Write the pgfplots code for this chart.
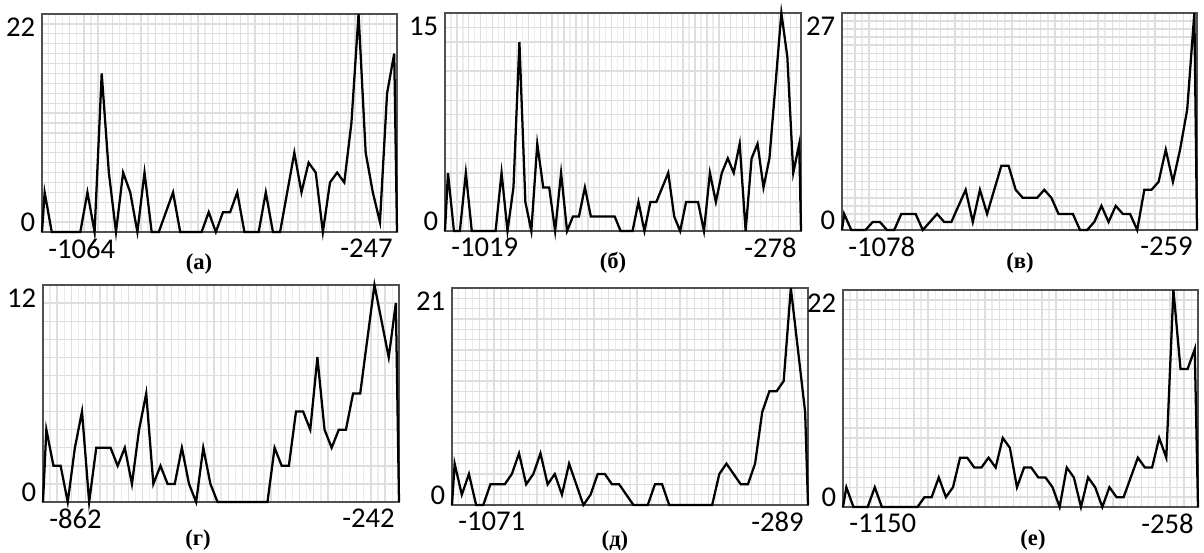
\documentclass[border=0pt]{standalone}
\usepackage{pgfplots}
\pgfplotsset{compat=1.18}
\usepackage{fontspec}
\setmainfont{Carlito}
\newfontfamily\capfont{Liberation Serif}
\definecolor{gridc}{RGB}{222,222,222}
\definecolor{gridm}{RGB}{236,236,236}
\definecolor{framec}{RGB}{80,80,80}
\pgfplotsset{
  panel/.style={scale only axis, ymin=0, clip=false,
    xticklabels={}, yticklabels={}, tick style={draw=none},
    xmajorgrids, xminorgrids, ymajorgrids,
    major grid style={gridc, line width=1pt},
    minor grid style={gridm, line width=1pt},
    axis line style={draw=framec, line width=1.4pt}},
  curve/.style={black, line width=1.7pt, no markers},
  g50/.style={xtick={-0.5,1.5,...,49.5}, minor xtick={0.5,2.5,...,49.5}},
}
\tikzset{
  lab/.style={inner sep=0pt, font=\fontsize{21.5}{24}\selectfont},
  captxt/.style={inner sep=0pt, font=\capfont\bfseries\fontsize{17}{20}\selectfont},
}
\newcommand\panellabels[4]{%
  \node[lab, anchor=north east, xshift=-5pt, yshift=-3pt] at (rel axis cs:0,1) {#1};
  \node[lab, anchor=south east, xshift=-5pt] at (rel axis cs:0,0) {#2};
  \node[lab, anchor=north west, xshift=4.5pt, yshift=-5pt] at (rel axis cs:0,0) {#3};
  \node[lab, anchor=north east, xshift=-3pt, yshift=-5pt] at (rel axis cs:1,0) {#4};
}
\begin{document}
\begin{tikzpicture}
\path[use as bounding box] (0,0) rectangle (903pt,-414.75pt);

% (a)
\begin{axis}[panel, g50, ytick={0,1,...,22}, at={(31.5pt,-174pt)}, anchor=south west, width=266.25pt, height=163.5pt,
  xmin=-0.37, xmax=49.39, ymax=22]
\addplot[curve] coordinates {(-0.37,0)
(0,4)(1,0)(2,0)(3,0)(4,0)(5,0)(6,4)(7,0)(8,16)(9,6)
(10,0)(11,6)(12,4)(13,0)(14,6)(15,0)(16,0)(17,2)(18,4)(19,0)
(20,0)(21,0)(22,0)(23,2)(24,0)(25,2)(26,2)(27,4)(28,0)(29,0)
(30,0)(31,4)(32,0)(33,0)(34,4)(35,8)(36,4)(37,7)(38,6)(39,0)
(40,5)(41,6)(42,5)(43,11)(44,22)(45,8)(46,4)(47,1)(48,14)(49,18)
(49.39,0)};
\panellabels{22}{0}{-1064}{-247}
\end{axis}

% (b)
\begin{axis}[panel, xtick={-0.5,1.5,...,59.5}, minor xtick={0.5,2.5,...,59.5}, ytick={0,1,...,15},
  at={(333.75pt,-173.25pt)}, anchor=south west, width=267pt, height=163.5pt,
  xmin=-0.5, xmax=59.3, ymax=15]
\addplot[curve] coordinates {(-0.5,0)
(0,4)(1,0)(2,0)(3,4)(4,0)(5,0)(6,0)(7,0)(8,0)(9,4)
(10,0)(11,3)(12,13)(13,2)(14,0)(15,6)(16,3)(17,3)(18,0)(19,4)
(20,0)(21,1)(22,1)(23,3)(24,1)(25,1)(26,1)(27,1)(28,1)(29,0)
(30,0)(31,0)(32,2)(33,0)(34,2)(35,2)(36,3)(37,4)(38,1)(39,0)
(40,2)(41,2)(42,2)(43,0)(44,4)(45,2)(46,4)(47,5)(48,4)(49,6)
(50,0)(51,5)(52,6)(53,3)(54,5)(55,10)(56,15)(57,12)(58,4)(59,6)
(59.3,0)};
\panellabels{15}{0}{-1019}{-278}
\end{axis}

% (c)
\begin{axis}[panel, g50, ytick={0,1,...,27}, at={(631.5pt,-172.5pt)}, anchor=south west, width=266.25pt, height=162.75pt,
  xmin=-0.3, xmax=49.37, ymax=27]
\addplot[curve] coordinates {(-0.3,0)
(0,2)(1,0)(2,0)(3,0)(4,1)(5,1)(6,0)(7,0)(8,2)(9,2)
(10,2)(11,0)(12,1)(13,2)(14,1)(15,1)(16,3)(17,5)(18,1)(19,5)
(20,2)(21,5)(22,8)(23,8)(24,5)(25,4)(26,4)(27,4)(28,5)(29,4)
(30,2)(31,2)(32,2)(33,0)(34,0)(35,1)(36,3)(37,1)(38,3)(39,2)
(40,2)(41,0)(42,5)(43,5)(44,6)(45,10)(46,6)(47,10)(48,15)(49,27)
(49.37,0)};
\panellabels{27}{0}{-1078}{-259}
\end{axis}

% (d)
\begin{axis}[panel, g50, ytick={0,1,...,12}, at={(32.25pt,-376.5pt)}, anchor=south west, width=267pt, height=162.75pt,
  xmin=-0.47, xmax=49.44, ymax=12]
\addplot[curve] coordinates {(-0.47,0)
(0,4)(1,2)(2,2)(3,0)(4,3)(5,5)(6,0)(7,3)(8,3)(9,3)
(10,2)(11,3)(12,1)(13,4)(14,6)(15,1)(16,2)(17,1)(18,1)(19,3)
(20,1)(21,0)(22,3)(23,1)(24,0)(25,0)(26,0)(27,0)(28,0)(29,0)
(30,0)(31,0)(32,3)(33,2)(34,2)(35,5)(36,5)(37,4)(38,8)(39,4)
(40,3)(41,4)(42,4)(43,6)(44,6)(45,9)(46,12)(47,10)(48,8)(49,11)
(49.44,0)};
\panellabels{12}{0}{-862}{-242}
\end{axis}

% (e)
\begin{axis}[panel, g50, ytick={0,1,...,21}, at={(339pt,-378.75pt)}, anchor=south west, width=267pt, height=162.75pt,
  xmin=-0.37, xmax=49.4, ymax=21]
\addplot[curve] coordinates {(-0.37,0)
(0,4)(1,1)(2,3)(3,0)(4,0)(5,2)(6,2)(7,2)(8,3)(9,5)
(10,2)(11,3)(12,5)(13,2)(14,3)(15,1)(16,4)(17,2)(18,0)(19,1)
(20,3)(21,3)(22,2)(23,2)(24,1)(25,0)(26,0)(27,0)(28,2)(29,2)
(30,0)(31,0)(32,0)(33,0)(34,0)(35,0)(36,0)(37,3)(38,4)(39,3)
(40,2)(41,2)(42,4)(43,9)(44,11)(45,11)(46,12)(47,21)(48,15)(49,9)
(49.4,0)};
\panellabels{21}{0}{-1071}{-289}
\end{axis}

% (f)
\begin{axis}[panel, g50, ytick={0,1,...,22}, at={(632.25pt,-380.25pt)}, anchor=south west, width=266.25pt, height=162.75pt,
  xmin=-0.47, xmax=49.46, ymax=22]
\addplot[curve] coordinates {(-0.47,0)
(0,2)(1,0)(2,0)(3,0)(4,2)(5,0)(6,0)(7,0)(8,0)(9,0)
(10,0)(11,1)(12,1)(13,3)(14,1)(15,2)(16,5)(17,5)(18,4)(19,4)
(20,5)(21,4)(22,7)(23,6)(24,2)(25,4)(26,4)(27,3)(28,3)(29,2)
(30,0)(31,4)(32,3)(33,0)(34,3)(35,2)(36,0)(37,2)(38,1)(39,1)
(40,3)(41,5)(42,4)(43,4)(44,7)(45,5)(46,22)(47,14)(48,14)(49,16)
(49.46,0)};
\panellabels{22}{0}{-1150}{-258}
\end{axis}

\node[captxt] at (149.25pt,-198pt) {(а)};
\node[captxt] at (459.75pt,-197pt) {(б)};
\node[captxt] at (765pt,-197pt) {(в)};
\node[captxt] at (148.5pt,-405pt) {(г)};
\node[captxt] at (461.25pt,-406pt) {(д)};
\node[captxt] at (774.75pt,-405pt) {(е)};
\end{tikzpicture}
\end{document}
